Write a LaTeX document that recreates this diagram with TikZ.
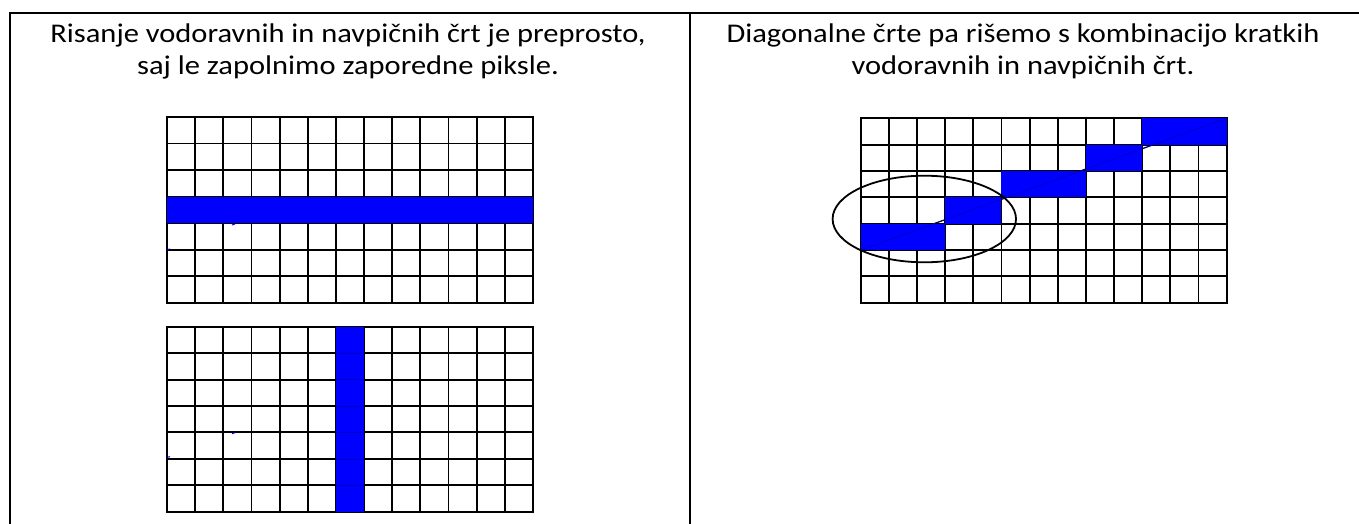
\documentclass[tikz,border=0pt]{standalone}
\usepackage{fontspec}
\setmainfont{Carlito}
\begin{document}
\begin{tikzpicture}[x=1pt,y=-1pt,
  gl/.style={line width=1.9pt,black},
  tbl/.style={line width=2.6pt,black},
  px/.style={fill={rgb,255:red,0;green,0;blue,255},draw=none},
  captxt/.style={font=\fontsize{27}{32}\selectfont,align=center,anchor=base,inner sep=0pt,xscale=1.13}]
\useasboundingbox (0,0) rectangle (1359,524);
\fill[white] (0,0) rectangle (1359,524);
% table
\draw[tbl] (10,524) -- (10,13) -- (1365,13);
\draw[tbl] (690,13) -- (690,524);
% captions
\node[captxt] (capL) at (348,75) {Risanje vodoravnih in navpičnih črt je preprosto,\\saj le zapolnimo zaporedne piksle.};
\node[captxt] (capR) at (1023,75) {Diagonalne črte pa rišemo s kombinacijo kratkih\\vodoravnih in navpičnih črt.};
% top-left grid
\begin{scope}[shift={(167,117)}]
  \foreach \i in {0,...,13} \draw[gl] ({\i*28.15},0) -- ({\i*28.15},185.7);
  \foreach \j in {0,...,7} \draw[gl] (-0.95,{\j*26.53}) -- (366.9,{\j*26.53});
  \fill[px] (0,{3*26.53}) rectangle (366,{4*26.53});
  \draw[blue,line width=1pt] (3,132) -- (0.5,132.5);
  \draw[blue,line width=1pt] (68,107) -- (65,108);
\end{scope}
% bottom-left grid
\begin{scope}[shift={(167,326.7)}]
  \foreach \i in {0,...,13} \draw[gl] ({\i*28.15},0) -- ({\i*28.15},185);
  \foreach \j in {0,...,7} \draw[gl] (-0.95,{\j*26.43}) -- (366.9,{\j*26.43});
  \fill[px] ({6*28.15},0) rectangle ({7*28.15},185);
  \foreach \j in {1,...,6} \draw[blue!75!black,line width=0.4pt] ({6*28.15},{\j*26.43}) -- ({7*28.15},{\j*26.43});
  \draw[blue,line width=1pt] (3,130) -- (0.5,130.5);
  \draw[blue,line width=1pt] (68,106) -- (65,107);
\end{scope}
% right grid
\begin{scope}[shift={(860.7,118.3)}]
  \foreach \i in {0,...,13} \draw[gl] ({\i*28.15},0) -- ({\i*28.15},184.4);
  \foreach \j in {0,...,7} \draw[gl] (-0.95,{\j*26.35}) -- (366.9,{\j*26.35});
  \coordinate (d0) at (0,{5*26.35});
  \coordinate (d1) at (366,0);
  \draw[black,line width=1.2pt] (d0) -- (d1);
  \fill[px] ({10*28.15},0) rectangle ({13*28.15},{1*26.35});
  \fill[px] ({8*28.15},{1*26.35}) rectangle ({10*28.15},{2*26.35});
  \fill[px] ({5*28.15},{2*26.35}) rectangle ({8*28.15},{3*26.35});
  \fill[px] ({3*28.15},{3*26.35}) rectangle ({5*28.15},{4*26.35});
  \fill[px] (0,{4*26.35}) rectangle ({3*28.15},{5*26.35});
  \draw[blue!70!black,line width=0.5pt] (d0) -- (d1);
  \draw[black,line width=1.8pt] (63.6,100.7) ellipse [x radius=91.7, y radius=43.3];
\end{scope}
\end{tikzpicture}
\end{document}
